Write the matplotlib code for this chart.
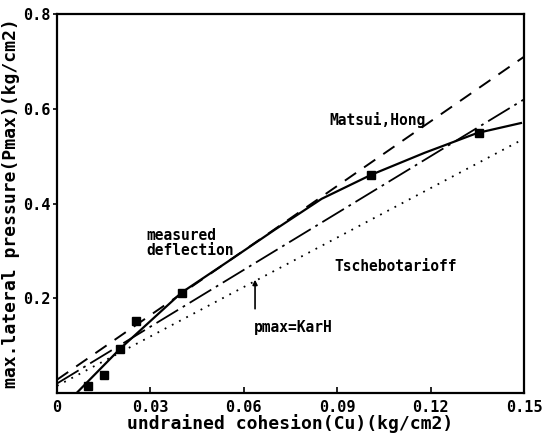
import numpy as np
import matplotlib.pyplot as plt

# measured points (Cu, Pmax)
cu_meas = [0.0101, 0.0152, 0.0202, 0.0254, 0.0401, 0.101, 0.1356]
p_meas = [0.015, 0.037, 0.093, 0.152, 0.212, 0.461, 0.549]

# measured deflection curve
cu_curve = [0.0063, 0.0202, 0.040, 0.055, 0.070, 0.085, 0.101, 0.118, 0.135, 0.149]
p_curve = [0.0, 0.093, 0.212, 0.278, 0.345, 0.410, 0.461, 0.507, 0.549, 0.570]

# Matsui, Hong
cu_mh = [0.0, 0.15]
p_mh = [0.028, 0.71]

# pmax = KarH
cu_kar = [0.0, 0.15]
p_kar = [0.020, 0.62]

# Tschebotarioff
cu_ts = [0.0, 0.15]
p_ts = [0.015, 0.537]

xticks = [0, 0.03, 0.06, 0.09, 0.12, 0.15]
xticklabels = ['0', '0.03', '0.06', '0.09', '0.12', '0.15']
yticks = [0.2, 0.4, 0.6, 0.8]
yticklabels = ['0.2', '0.4', '0.6', '0.8']

# plotter-style lettering: monospaced, bold
plt.rcParams['font.family'] = 'DejaVu Sans Mono'
plt.rcParams['font.weight'] = 'bold'

fig = plt.figure(figsize=(5.45, 4.34), dpi=100)
ax = fig.add_axes([0.1046, 0.0945, 0.857, 0.873])

ax.plot(cu_mh, p_mh, color='black', lw=1.4, linestyle=(0, (7, 5)))
ax.plot(cu_kar, p_kar, color='black', lw=1.3, linestyle=(0, (14, 3, 1.5, 3)))
ax.plot(cu_ts, p_ts, color='black', lw=1.3, linestyle=(0, (1, 3.5)))
ax.plot(cu_curve, p_curve, color='black', lw=1.6)
ax.plot(cu_meas, p_meas, 's', color='black', markersize=6)

ax.annotate('', xy=(0.0636, 0.245), xytext=(0.0636, 0.172),
            arrowprops=dict(arrowstyle='-|>', color='black', lw=1.2,
                            mutation_scale=7))

txt = dict(fontsize=10.5, fontweight='bold', va='center', ha='left')
ax.text(0.0874, 0.576, 'Matsui,Hong', **txt)
ax.text(0.0286, 0.333, 'measured', **txt)
ax.text(0.0286, 0.300, 'deflection', **txt)
ax.text(0.089, 0.268, 'Tschebotarioff', **txt)
ax.text(0.0633, 0.139, 'pmax=KarH', **txt)

ax.set_xlim(0, 0.15)
ax.set_ylim(0, 0.8)
ax.set_xticks(xticks)
ax.set_xticklabels(xticklabels)
ax.set_yticks(yticks)
ax.set_yticklabels(yticklabels)
ax.tick_params(axis='x', direction='in', length=4, width=1.2, labelsize=11, pad=5)
ax.tick_params(axis='y', direction='out', length=3, width=1.2, labelsize=11, pad=2)

for s in ax.spines.values():
    s.set_linewidth(1.6)

ax.set_xlabel('undrained cohesion(Cu)(kg/cm2)', fontsize=13, fontweight='bold', labelpad=-1)
ax.set_ylabel('max.lateral pressure(Pmax)(kg/cm2)', fontsize=13, fontweight='bold', labelpad=2)

fig.savefig('out.png', dpi=100)
